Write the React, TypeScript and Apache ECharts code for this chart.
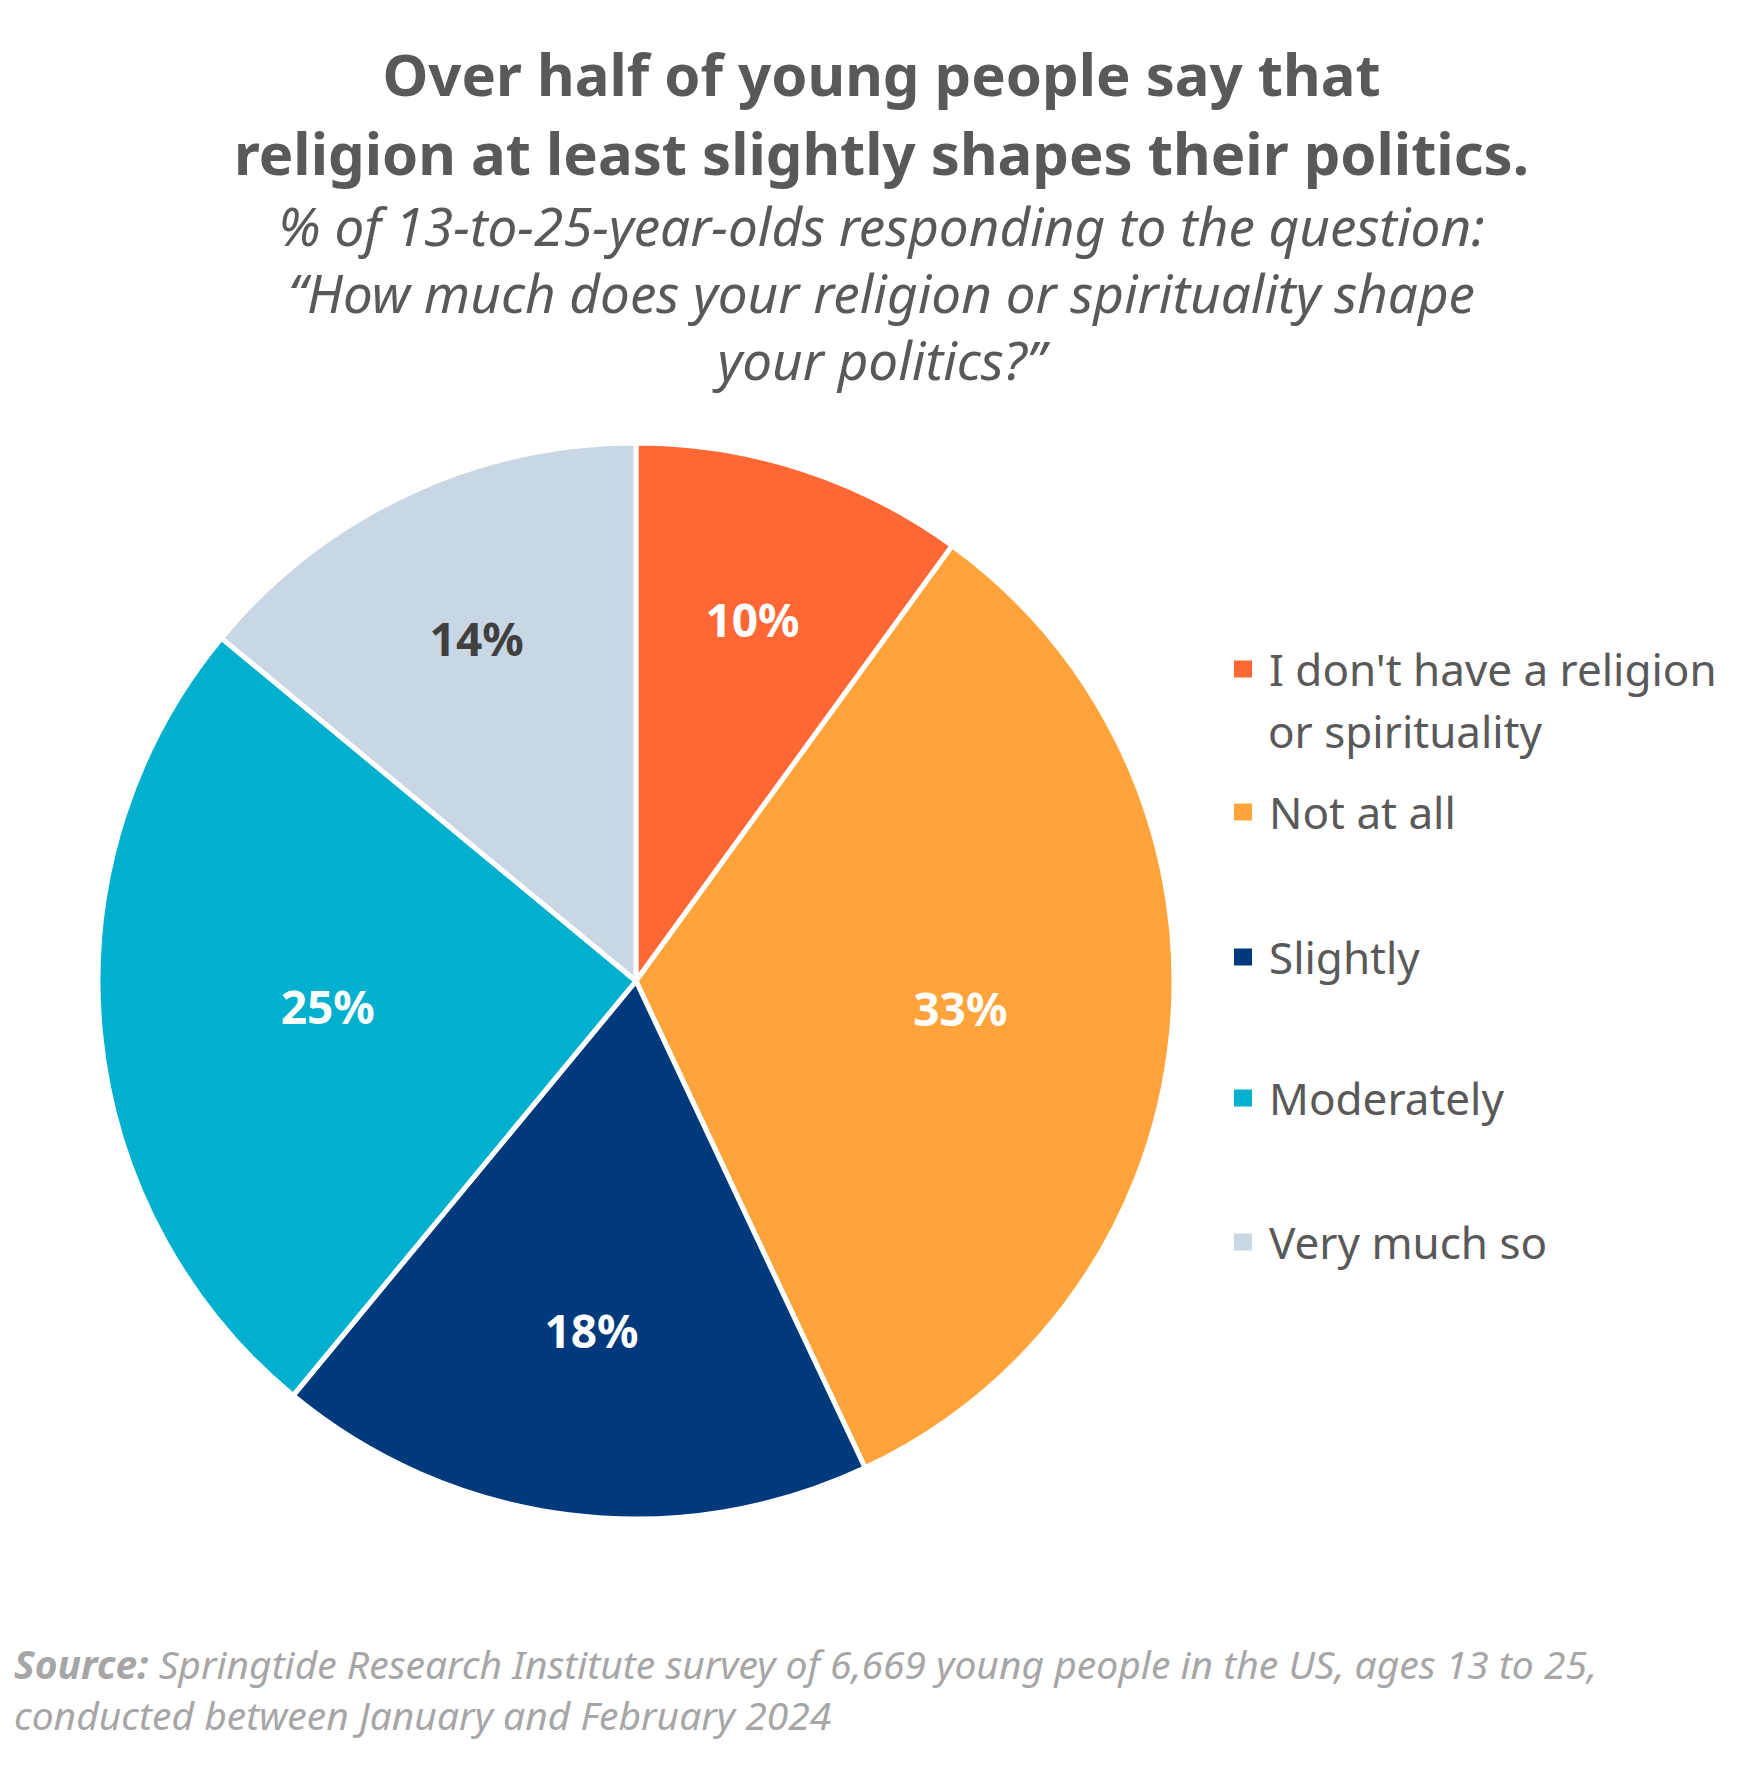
import React, { useEffect, useRef } from "react";
import * as echarts from "echarts";

const categories = [
  "I don't have a religion or spirituality",
  "Not at all",
  "Slightly",
  "Moderately",
  "Very much so",
];
const values = [10, 33, 18, 25, 14];
const colors = ["#FF6835", "#FFA33A", "#003A7D", "#00B0CE", "#C9D6E3"];
const labelColors = ["#FFFFFF", "#FFFFFF", "#FFFFFF", "#FFFFFF", "#404040"];
const legendLabels = ["I don't have a religion", "Not at all", "Slightly", "Moderately", "Very much so"];
const legendSecondLine = "or spirituality";

const titleText = "Over half of young people say that\nreligion at least slightly shapes their politics.";
const subtitleText =
  "% of 13-to-25-year-olds responding to the question:\n\u201CHow much does your religion or spirituality shape\nyour politics?\u201D";
const sourceLead = "Source:";
const sourceLine1 = "Springtide Research Institute survey of 6,669 young people in the US, ages 13 to 25,";
const sourceLine2 = "conducted between January and February 2024";

const FONT = "'Noto Sans', sans-serif";
const GREY = "#595959";
const SRC = "#A6A6A6";

export default function App() {
  const ref = useRef<HTMLDivElement>(null);
  useEffect(() => {
    document.body.style.margin = "0";
    if (!ref.current) return;
    const chart = echarts.init(ref.current, null, { renderer: "svg" });
    const cx = 636;
    const cy = 981;
    const R = 538;
    const legendCenters = [669, 812, 957, 1098, 1242];
    const legendLineH = 52;
    const legendFont = 44;
    // inner radius fraction of each label-carrying ring (label sits midway)
    const labelRingInner = [0.39, 0.2, 0.31, 0.14, 0.38];

    const legends = categories.map((name, i) => ({
      orient: "vertical",
      left: 1232,
      top: legendCenters[i] - legendLineH / 2,
      data: [name],
      icon: "rect",
      itemWidth: 20,
      itemHeight: 19,
      padding: 0,
      formatter: () => `{s|}{t|${legendLabels[i]}}`,
      textStyle: {
        fontFamily: FONT,
        fontSize: legendFont,
        color: GREY,
        lineHeight: legendLineH,
        rich: {
          s: { width: 11 },
          t: { fontFamily: FONT, fontSize: legendFont, color: GREY, lineHeight: legendLineH },
        },
      },
    }));

    const data = categories.map((name, i) => ({
      name,
      value: values[i],
      itemStyle: { color: colors[i] },
    }));

    const labelSeries = categories.map((_, k) => ({
      type: "pie",
      center: [cx, cy],
      radius: [R * labelRingInner[k], R],
      startAngle: 90,
      clockwise: true,
      silent: true,
      itemStyle: { color: "rgba(0,0,0,0)" },
      labelLine: { show: false },
      emphasis: { disabled: true },
      data: categories.map((name, i) => ({
        name,
        value: values[i],
        label: {
          show: i === k,
          position: "inside",
          formatter: "{c}%",
          fontFamily: FONT,
          fontSize: 46,
          fontWeight: "bold",
          color: labelColors[i],
          offset: [0, -4],
        },
      })),
    }));

    const srcStyle = { fontFamily: FONT, fontSize: 39, fontStyle: "italic", color: SRC, lineHeight: 44 };

    chart.setOption({
      animation: false,
      backgroundColor: "#FFFFFF",
      title: [
        {
          text: titleText,
          subtext: subtitleText,
          left: "center",
          top: 34,
          itemGap: 0,
          padding: 0,
          textStyle: {
            fontFamily: FONT,
            fontSize: 58,
            fontWeight: "bold",
            color: GREY,
            lineHeight: 79,
          },
          subtextStyle: {
            fontFamily: FONT,
            fontSize: 53,
            fontStyle: "italic",
            color: GREY,
            lineHeight: 67,
          },
        },
        {
          text: `{b|${sourceLead}} {i|${sourceLine1}}`,
          left: 14,
          top: 1641,
          padding: 0,
          textStyle: {
            ...srcStyle,
            fontWeight: "normal",
            rich: {
              b: { ...srcStyle, fontWeight: "bold" },
              i: { ...srcStyle, fontWeight: "normal" },
            },
          },
        },
        {
          text: sourceLine2,
          left: 14,
          top: 1692,
          padding: 0,
          textStyle: { ...srcStyle, fontWeight: "normal" },
        },
      ],
      legend: legends,
      graphic: [
        {
          type: "text",
          left: 1268,
          top: 731 - legendLineH / 2,
          style: {
            text: legendSecondLine,
            fontFamily: FONT,
            fontSize: legendFont,
            fill: GREY,
            lineHeight: legendLineH,
          },
        },
      ],
      series: [
        {
          type: "pie",
          center: [cx, cy],
          radius: [0, R],
          startAngle: 90,
          clockwise: true,
          label: { show: false },
          labelLine: { show: false },
          itemStyle: { borderColor: "#FFFFFF", borderWidth: 5 },
          emphasis: { disabled: true },
          data,
        },
        ...labelSeries,
      ],
    });
    return () => chart.dispose();
  }, []);
  return <div ref={ref} style={{ width: 1763, height: 1769 }} />;
}
